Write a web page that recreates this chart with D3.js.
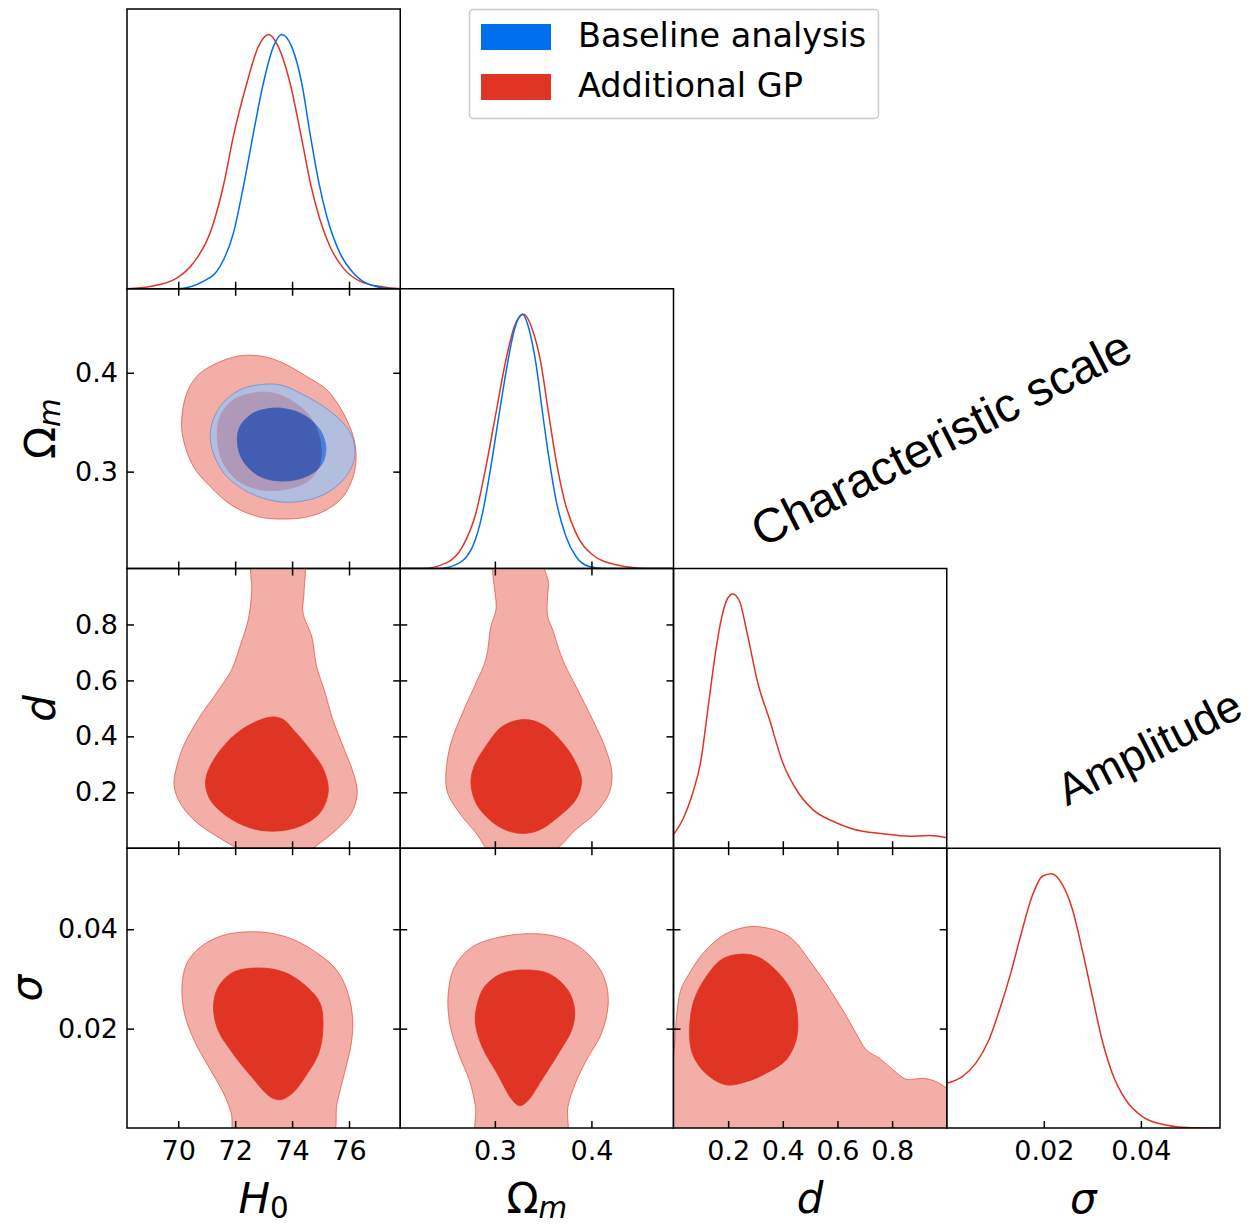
<!DOCTYPE html>
<html>
<head>
<meta charset="utf-8">
<script src="https://cdn.jsdelivr.net/npm/d3@7"></script>
<style>
  body { margin: 0; background: #fff; }
  svg { display: block; font-family: "DejaVu Sans", sans-serif; }
</style>
</head>
<body>
<svg id="chart" width="1255" height="1225"></svg>
<script>
// axis ranges and ticks
const h0Domain = [68.2, 77.8];
const omDomain = [0.202, 0.485];
const dDomain = [0, 1];
const sigmaDomain = [0, 0.0563];

const h0Ticks = [70, 72, 74, 76];
const omTicks = [0.3, 0.4];
const dTicks = [0.2, 0.4, 0.6, 0.8];
const sigmaTicks = [0.02, 0.04];

const h0TickLabels = ["70", "72", "74", "76"];
const omTickLabels = ["0.3", "0.4"];
const dTickLabels = ["0.2", "0.4", "0.6", "0.8"];
const sigmaTickLabels = ["0.02", "0.04"];

const seriesNames = ["Baseline analysis", "Additional GP"];
const seriesColors = ["#006FED", "#E03424"];
const seriesLight = ["#99C5F8", "#F3AEA7"];

const annotations = ["Characteristic scale", "Amplitude"];

// 1D marginals: [value, density / max]
const h0Baseline = [[68.2,0],[69.95,0],[70.88,0.029],[71.47,0.088],[71.94,0.219],[72.29,0.402],[72.64,0.611],[72.99,0.808],[73.34,0.951],[73.63,1.0],[73.99,0.951],[74.34,0.808],[74.63,0.611],[74.92,0.428],[75.22,0.284],[75.68,0.14],[76.15,0.062],[76.74,0.016],[77.56,0],[77.8,0]];
const h0GP = [[68.2,0],[69.01,0.009],[69.95,0.042],[70.53,0.101],[71.12,0.219],[71.58,0.402],[71.96,0.611],[72.41,0.808],[72.81,0.951],[73.18,1.0],[73.52,0.951],[73.93,0.808],[74.30,0.611],[74.67,0.402],[74.98,0.271],[75.33,0.166],[75.80,0.081],[76.39,0.029],[77.21,0.007],[77.8,0]];
const omBaseline = [[0.202,0],[0.2424,0],[0.2597,0.015],[0.2769,0.086],[0.2872,0.218],[0.2959,0.401],[0.3046,0.611],[0.3131,0.807],[0.3201,0.938],[0.3287,1.0],[0.3356,0.938],[0.3425,0.807],[0.3494,0.611],[0.3563,0.427],[0.3633,0.27],[0.3736,0.126],[0.384,0.047],[0.3977,0.008],[0.415,0],[0.485,0]];
const omGP = [[0.202,0],[0.2251,0],[0.2493,0.021],[0.2665,0.086],[0.2804,0.218],[0.2908,0.401],[0.3011,0.611],[0.3107,0.807],[0.3201,0.951],[0.3297,1.0],[0.339,0.938],[0.3477,0.807],[0.3556,0.611],[0.3633,0.427],[0.3719,0.27],[0.384,0.139],[0.4012,0.054],[0.4254,0.015],[0.4599,0],[0.485,0]];
const dGP = [[0,0.054],[0.034,0.113],[0.0707,0.218],[0.101,0.349],[0.1256,0.545],[0.15,0.742],[0.1745,0.899],[0.1988,0.984],[0.217,1.0],[0.2415,0.971],[0.272,0.833],[0.3085,0.65],[0.3513,0.506],[0.40,0.336],[0.449,0.231],[0.51,0.152],[0.583,0.106],[0.656,0.076],[0.766,0.057],[0.864,0.047],[0.937,0.05],[1.0,0.041]];
const sigmaGP = [[0,0.176],[0.0032,0.202],[0.006,0.255],[0.0087,0.347],[0.0111,0.478],[0.0132,0.61],[0.0152,0.754],[0.0176,0.912],[0.0197,0.99],[0.0216,1.0],[0.0238,0.958],[0.0259,0.859],[0.0279,0.702],[0.03,0.518],[0.032,0.347],[0.0341,0.215],[0.0369,0.11],[0.0403,0.045],[0.0451,0.012],[0.0506,0.001],[0.0563,0]];

// 2D contours (outer = 95%, inner = 68%), as [x, y] in data units
const h0OmBase95 = [[73.11,0.3886],[72.17,0.3828],[71.47,0.366],[71.14,0.3424],[71.23,0.3188],[71.70,0.2952],[72.52,0.2783],[73.46,0.2699],[74.28,0.2699],[75.10,0.2766],[75.80,0.2918],[76.18,0.312],[76.15,0.3322],[75.80,0.3491],[75.10,0.366],[74.28,0.3795],[73.69,0.3869]];
const h0OmBase68 = [[73.34,0.3643],[72.64,0.3592],[72.17,0.3457],[72.08,0.3289],[72.29,0.3103],[72.87,0.2952],[73.69,0.2904],[74.51,0.2952],[75.04,0.307],[75.19,0.3238],[74.98,0.3424],[74.40,0.3575],[73.81,0.3633]];
const h0OmGP95 = [[72.17,0.4172],[71.23,0.4081],[70.65,0.3963],[70.30,0.3795],[70.12,0.3525],[70.18,0.3322],[70.53,0.3053],[71.12,0.285],[71.94,0.2648],[72.87,0.254],[73.69,0.252],[74.51,0.254],[75.22,0.2614],[75.80,0.2749],[76.15,0.2952],[76.25,0.3154],[76.15,0.3356],[75.80,0.3592],[75.22,0.3828],[74.51,0.3963],[73.69,0.4098],[72.99,0.4165]];
const h0OmGP68 = [[72.76,0.3801],[71.94,0.3727],[71.47,0.3558],[71.37,0.3356],[71.53,0.312],[72.05,0.2918],[72.87,0.2817],[73.81,0.2823],[74.63,0.2918],[74.98,0.3086],[74.98,0.3322],[74.63,0.3558],[73.93,0.3727],[73.34,0.3795]];
const h0dGP95 = [[72.66,1.05],[72.58,0.913],[72.46,0.818],[72.17,0.722],[71.88,0.639],[71.35,0.556],[70.77,0.472],[70.18,0.365],[69.95,0.293],[69.85,0.234],[70.00,0.174],[70.53,0.103],[71.35,0.043],[72.6,-0.02],[74.4,-0.02],[74.98,0.019],[75.57,0.067],[76.09,0.127],[76.29,0.198],[76.15,0.27],[75.74,0.377],[75.39,0.472],[75.16,0.556],[74.86,0.651],[74.69,0.758],[74.45,0.818],[74.37,0.853],[74.42,0.913],[74.32,1.05]];
const h0dGP68 = [[73.28,0.469],[72.41,0.436],[71.70,0.377],[71.12,0.293],[70.96,0.234],[71.12,0.174],[71.70,0.115],[72.52,0.073],[73.34,0.061],[74.28,0.079],[74.98,0.127],[75.27,0.204],[75.10,0.282],[74.63,0.353],[74.04,0.424],[73.69,0.46]];
const omdGP95 = [[0.3011,1.05],[0.3011,0.853],[0.2959,0.794],[0.2907,0.675],[0.2804,0.591],[0.2666,0.484],[0.2545,0.377],[0.2493,0.27],[0.251,0.198],[0.2631,0.127],[0.2804,0.055],[0.298,-0.02],[0.356,-0.02],[0.3839,0.067],[0.4047,0.127],[0.4185,0.198],[0.4212,0.27],[0.415,0.353],[0.4012,0.46],[0.3839,0.579],[0.3701,0.675],[0.3598,0.782],[0.3546,0.83],[0.3546,0.901],[0.3556,0.95],[0.352,0.99],[0.345,1.05]];
const omdGP68 = [[0.3304,0.46],[0.308,0.436],[0.2907,0.365],[0.2786,0.293],[0.2752,0.234],[0.2804,0.162],[0.2942,0.103],[0.3114,0.065],[0.3287,0.053],[0.346,0.065],[0.3667,0.115],[0.3839,0.174],[0.3898,0.24],[0.3839,0.305],[0.3701,0.377],[0.3494,0.442]];
const h0SigGP95 = [[72.51,0.0395],[71.53,0.0387],[70.75,0.0363],[70.29,0.033],[70.13,0.0283],[70.22,0.023],[70.55,0.0177],[71.07,0.0123],[71.59,0.007],[71.86,0.003],[72.05,-0.003],[75.33,-0.003],[75.58,0.005],[75.84,0.011],[76.08,0.017],[76.13,0.0217],[75.97,0.027],[75.58,0.0317],[74.93,0.035],[74.14,0.0377],[73.36,0.0391]];
const h0SigGP68 = [[72.84,0.0322],[71.92,0.0313],[71.40,0.0283],[71.24,0.0243],[71.40,0.0197],[71.92,0.015],[72.58,0.0103],[73.23,0.0063],[73.59,0.0057],[74.01,0.007],[74.54,0.011],[74.93,0.015],[75.08,0.0197],[74.99,0.025],[74.54,0.0283],[73.75,0.0313]];
const omSigGP95 = [[0.3332,0.0391],[0.3023,0.0383],[0.2753,0.0363],[0.2579,0.0323],[0.2514,0.0263],[0.254,0.0203],[0.2637,0.0143],[0.2734,0.0097],[0.2799,0.0043],[0.283,-0.003],[0.3718,-0.003],[0.3757,0.0043],[0.3834,0.009],[0.395,0.0137],[0.4104,0.019],[0.4174,0.025],[0.4143,0.0297],[0.4027,0.0337],[0.3834,0.037],[0.3602,0.0387]];
const omSigGP68 = [[0.3313,0.0318],[0.3062,0.031],[0.2888,0.0283],[0.2811,0.0243],[0.2799,0.021],[0.2869,0.0163],[0.3023,0.011],[0.3178,0.0057],[0.3255,0.0045],[0.3332,0.0053],[0.3486,0.0097],[0.368,0.0157],[0.3795,0.0197],[0.3826,0.0237],[0.3757,0.0277],[0.3564,0.031]];
const dSigGP95 = [[-0.03,-0.004],[-0.005,0.012],[0.003,0.016],[0.0078,0.0203],[0.0261,0.0277],[0.0567,0.031],[0.1057,0.035],[0.1792,0.0387],[0.2527,0.0403],[0.3139,0.0405],[0.3996,0.0393],[0.4486,0.0373],[0.4975,0.0337],[0.5588,0.029],[0.62,0.0237],[0.669,0.019],[0.7057,0.0157],[0.7547,0.014],[0.8037,0.0117],[0.8526,0.0098],[0.9139,0.01],[0.9628,0.0093],[1.0,0.008],[1.03,0.007],[1.03,-0.004]];
const dSigGP68 = [[0.2527,0.035],[0.1792,0.034],[0.118,0.0303],[0.0751,0.0257],[0.0592,0.0203],[0.069,0.015],[0.118,0.011],[0.1914,0.0087],[0.2649,0.0093],[0.3384,0.011],[0.4118,0.0137],[0.4486,0.0177],[0.4547,0.0217],[0.4363,0.027],[0.3873,0.031],[0.3139,0.0343]];

// ---- layout ----
const gridLeft = 127, gridTop = 9, pw = 273.25, ph = 279.75;

const params = [
  {domain: h0Domain, ticks: h0Ticks, labels: h0TickLabels, main: "H", sub: "0", mainItalic: true, subItalic: false, labelX: 55},
  {domain: omDomain, ticks: omTicks, labels: omTickLabels, main: "Ω", sub: "m", mainItalic: false, subItalic: true, labelX: 55},
  {domain: dDomain, ticks: dTicks, labels: dTickLabels, main: "d", sub: null, mainItalic: true, labelX: 55},
  {domain: sigmaDomain, ticks: sigmaTicks, labels: sigmaTickLabels, main: "σ", sub: null, mainItalic: true, labelX: 41}
];

// marginals per diagonal panel, drawn in order
const marginals = [
  [{data: h0GP, color: seriesColors[1]}, {data: h0Baseline, color: seriesColors[0]}],
  [{data: omGP, color: seriesColors[1]}, {data: omBaseline, color: seriesColors[0]}],
  [{data: dGP, color: seriesColors[1]}],
  [{data: sigmaGP, color: seriesColors[1]}]
];

const contours = {
  "1-0": {gp: [h0OmGP95, h0OmGP68], base: [h0OmBase95, h0OmBase68]},
  "2-0": {gp: [h0dGP95, h0dGP68]},
  "2-1": {gp: [omdGP95, omdGP68]},
  "3-0": {gp: [h0SigGP95, h0SigGP68]},
  "3-1": {gp: [omSigGP95, omSigGP68]},
  "3-2": {gp: [dSigGP95, dSigGP68]}
};

const svg = d3.select("#chart");
svg.append("rect").attr("width", 1255).attr("height", 1225).attr("fill", "#fff");
const defs = svg.append("defs");

const tickFont = 27, labelFont = 42;

function styleAxis(a, showLabels) {
  a.select(".domain").remove();
  a.selectAll(".tick line").attr("stroke", "#000").attr("stroke-width", 1.5);
  if (showLabels) {
    a.selectAll(".tick text")
      .attr("fill", "#000")
      .attr("font-family", "DejaVu Sans")
      .attr("font-size", tickFont);
  } else {
    a.selectAll(".tick text").remove();
  }
}

function mathLabel(text, p) {
  text.append("tspan")
    .attr("font-style", p.mainItalic ? "oblique" : "normal")
    .text(p.main);
  if (p.sub) {
    text.append("tspan")
      .attr("font-size", labelFont * 0.7)
      .attr("dy", 4.5)
      .attr("font-style", p.subItalic ? "oblique" : "normal")
      .text(p.sub);
  }
}

for (let i = 0; i < 4; i++) {
  for (let j = 0; j <= i; j++) {
    const px = params[j], py = params[i];
    const x = d3.scaleLinear().domain(px.domain).range([0, pw]);
    const g = svg.append("g").attr("transform", `translate(${gridLeft + j * pw},${gridTop + i * ph})`);
    const clipId = `clip-${i}-${j}`;
    defs.append("clipPath").attr("id", clipId)
      .append("rect").attr("width", pw).attr("height", ph);
    const body = g.append("g").attr("clip-path", `url(#${clipId})`);

    const xFmt = (d, k) => px.labels[k];
    const bottom = g.append("g").attr("transform", `translate(0,${ph})`)
      .call(d3.axisBottom(x).tickValues(px.ticks).tickFormat(xFmt)
        .tickSizeInner(-7).tickSizeOuter(0).tickPadding(13));
    styleAxis(bottom, i === 3);

    if (i === j) {
      const y = d3.scaleLinear().domain([0, 1.1]).range([ph, 0]);
      const line = d3.line().x(d => x(d[0])).y(d => y(d[1])).curve(d3.curveMonotoneX);
      marginals[i].forEach(m => {
        body.append("path")
          .attr("d", line(m.data))
          .attr("fill", "none")
          .attr("stroke", m.color)
          .attr("stroke-width", 1.5);
      });
    } else {
      const y = d3.scaleLinear().domain(py.domain).range([ph, 0]);
      const shape = d3.line().x(d => x(d[0])).y(d => y(d[1]))
        .curve(d3.curveCatmullRomClosed.alpha(0.5));
      const c = contours[`${i}-${j}`];

      const gp = body.append("g");
      gp.append("path").attr("d", shape(c.gp[0]))
        .attr("fill", seriesLight[1]).attr("stroke", seriesColors[1])
        .attr("stroke-opacity", 0.6).attr("stroke-width", 1);
      gp.append("path").attr("d", shape(c.gp[1]))
        .attr("fill", seriesColors[1]).attr("stroke", seriesColors[1])
        .attr("stroke-width", 0.8);

      if (c.base) {
        const base = body.append("g").attr("opacity", 0.7);
        base.append("path").attr("d", shape(c.base[0]))
          .attr("fill", seriesLight[0]).attr("stroke", seriesColors[0])
          .attr("stroke-opacity", 0.6).attr("stroke-width", 1);
        base.append("path").attr("d", shape(c.base[1]))
          .attr("fill", seriesColors[0]).attr("stroke", seriesColors[0])
          .attr("stroke-width", 0.8);
      }

      const yFmt = (d, k) => py.labels[k];
      const topAx = g.append("g")
        .call(d3.axisTop(x).tickValues(px.ticks).tickSizeInner(-7).tickSizeOuter(0));
      styleAxis(topAx, false);
      const leftAx = g.append("g")
        .call(d3.axisLeft(y).tickValues(py.ticks).tickFormat(yFmt)
          .tickSizeInner(-7).tickSizeOuter(0).tickPadding(9));
      styleAxis(leftAx, j === 0);
      const rightAx = g.append("g").attr("transform", `translate(${pw},0)`)
        .call(d3.axisRight(y).tickValues(py.ticks).tickSizeInner(-7).tickSizeOuter(0));
      styleAxis(rightAx, false);
    }

    g.append("rect")
      .attr("width", pw).attr("height", ph)
      .attr("fill", "none").attr("stroke", "#000").attr("stroke-width", 1.5);
  }
}

// bottom parameter labels
params.forEach((p, j) => {
  const t = svg.append("text")
    .attr("x", gridLeft + (j + 0.5) * pw)
    .attr("y", 1213)
    .attr("text-anchor", "middle")
    .attr("font-size", labelFont)
    .attr("fill", "#000");
  mathLabel(t, p);
});

// left parameter labels (rows 2-4)
params.slice(1).forEach((p, k) => {
  const i = k + 1;
  const t = svg.append("text")
    .attr("transform", `translate(${p.labelX},${gridTop + (i + 0.5) * ph}) rotate(-90)`)
    .attr("text-anchor", "middle")
    .attr("font-size", labelFont)
    .attr("fill", "#000");
  mathLabel(t, p);
});

// legend
const legend = svg.append("g");
legend.append("rect")
  .attr("x", 469.5).attr("y", 9.5).attr("width", 409).attr("height", 109)
  .attr("rx", 4).attr("fill", "#fff").attr("stroke", "#cccccc").attr("stroke-width", 1.5);
seriesNames.forEach((name, k) => {
  legend.append("rect")
    .attr("x", 481).attr("y", 24 + k * 50).attr("width", 70).attr("height", 26)
    .attr("fill", seriesColors[k]);
  legend.append("text")
    .attr("x", 578).attr("y", 47 + k * 50)
    .attr("font-size", 33.5).attr("fill", "#000")
    .text(name);
});

// side annotations
const notePos = [[941, 438], [1149, 747]];
const noteSize = [48, 45];
annotations.forEach((s, k) => {
  svg.append("text")
    .attr("transform", `translate(${notePos[k][0]},${notePos[k][1]}) rotate(-27)`)
    .attr("text-anchor", "middle")
    .attr("dy", "0.35em")
    .attr("font-family", "Liberation Sans, Arial, sans-serif")
    .attr("font-size", noteSize[k])
    .attr("fill", "#000")
    .text(s);
});
</script>
</body>
</html>
